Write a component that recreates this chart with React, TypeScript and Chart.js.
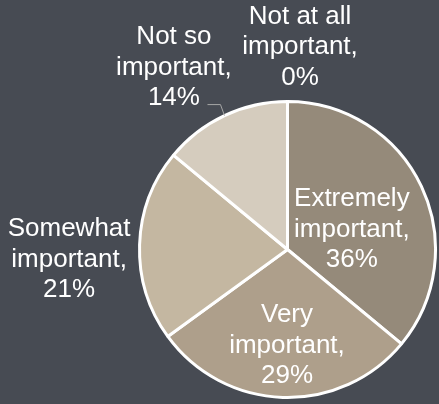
import { useEffect, useRef } from "react";
import { Chart, registerables } from "chart.js";

Chart.register(...registerables);

const categories = [
  "Extremely important",
  "Very important",
  "Somewhat important",
  "Not so important",
  "Not at all important",
];
const values = [36, 29, 21, 14, 0];
const sliceColors = ["#958a7a", "#ae9f8b", "#c4b7a1", "#d5ccbe", "#e2dbd1"];

const BG = "#474b53";
const FONT_SIZE = 26;
const LINE_HEIGHT = 30.5;

// label placement relative to each slice: fraction of radius along mid angle + nudge
const LABEL_LAYOUT = [
  { dist: 0.473, dx: 1, dy: 10, leader: false },
  { dist: 0.649, dx: 2.5, dy: 0, leader: false },
  { dist: 1.473, dx: -0.5, dy: 17, leader: false },
  { dist: 1.358, dx: -28, dy: 0, leader: true },
  { dist: 1.368, dx: 12.5, dy: 0, leader: false },
];

function labelLines(name: string, v: number): string[] {
  const idx = name.lastIndexOf(" important");
  const head = idx >= 0 ? name.slice(0, idx) : name;
  return [head, "important,", `${v}%`];
}

const labelPlugin = {
  id: "sliceLabels",
  afterDatasetsDraw(chart: any) {
    const ctx = chart.ctx as CanvasRenderingContext2D;
    const meta = chart.getDatasetMeta(0);
    ctx.save();
    ctx.font = `${FONT_SIZE}px "Liberation Sans", Arial, sans-serif`;
    ctx.textAlign = "center";
    ctx.textBaseline = "middle";
    meta.data.forEach((arc: any, i: number) => {
      const p = arc.getProps(["x", "y", "startAngle", "endAngle", "outerRadius"], true);
      const mid = (p.startAngle + p.endAngle) / 2;
      const L = LABEL_LAYOUT[i];
      const d = p.outerRadius * L.dist;
      const cx = p.x + Math.cos(mid) * d + L.dx;
      const cy = p.y + Math.sin(mid) * d + L.dy;
      const lines = labelLines(categories[i], values[i]);
      ctx.fillStyle = "#ffffff";
      lines.forEach((ln, k) => {
        ctx.fillText(ln, cx, cy + (k - (lines.length - 1) / 2) * LINE_HEIGHT);
      });
      if (L.leader) {
        const ex = p.x + Math.cos(mid) * p.outerRadius;
        const ey = p.y + Math.sin(mid) * p.outerRadius;
        ctx.strokeStyle = "#a6a6a6";
        ctx.lineWidth = 1;
        ctx.beginPath();
        ctx.moveTo(ex, ey);
        ctx.lineTo(ex - 4, ey - 11);
        ctx.lineTo(ex - 17, ey - 11);
        ctx.stroke();
      }
    });
    ctx.restore();
  },
};

export default function App() {
  const ref = useRef<HTMLCanvasElement | null>(null);
  useEffect(() => {
    if (!ref.current) return;
    const chart = new Chart(ref.current, {
      type: "pie",
      data: {
        labels: categories,
        datasets: [
          {
            data: values,
            backgroundColor: sliceColors,
            borderColor: "#ffffff",
            borderWidth: 3,
          },
        ],
      },
      options: {
        responsive: false,
        animation: false,
        layout: { padding: { left: 138, right: 2, top: 100, bottom: 5 } },
        plugins: {
          legend: { display: false },
          tooltip: { enabled: false },
        },
      },
      plugins: [labelPlugin],
    });
    return () => chart.destroy();
  }, []);
  return (
    <div
      style={{
        position: "absolute",
        left: 0,
        top: 0,
        width: 439,
        height: 404,
        background: BG,
      }}
    >
      <canvas ref={ref} width={439} height={404} style={{ width: 439, height: 404 }} />
    </div>
  );
}
